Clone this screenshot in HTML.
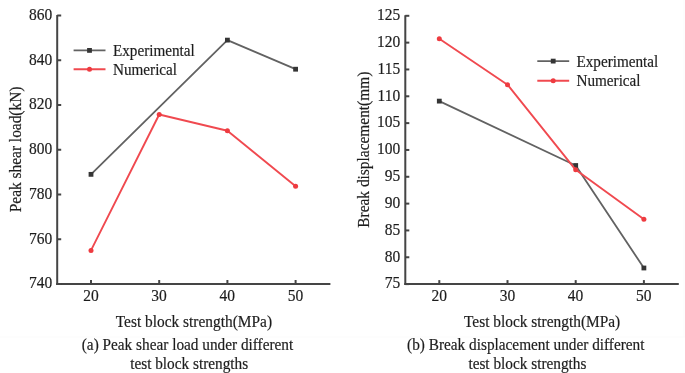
<!DOCTYPE html>
<html><head><meta charset="utf-8"><style>
html,body{margin:0;padding:0;background:#fff;width:685px;height:373px;overflow:hidden}
svg{display:block;font-family:"Liberation Serif",serif;fill:#1e1e1e}
svg text{fill:#1e1e1e;stroke:#1e1e1e;stroke-width:0.18px}
</style></head><body>
<svg width="685" height="373" viewBox="0 0 685 373">
<defs><filter id="b" x="0" y="0" width="100%" height="100%" filterUnits="userSpaceOnUse"><feGaussianBlur stdDeviation="0.45"/></filter></defs>
<rect width="685" height="373" fill="#fff"/>
<rect x="0" y="336.5" width="685" height="1" fill="#fbfbfb"/><rect x="683.5" y="0" width="1" height="337" fill="#fbfbfb"/>
<g filter="url(#b)">
<line x1="57.20" y1="14.90" x2="57.20" y2="285.00" stroke="#444" stroke-width="2"/>
<line x1="56.20" y1="284.00" x2="330.40" y2="284.00" stroke="#444" stroke-width="2"/>
<line x1="57.20" y1="284.00" x2="61.20" y2="284.00" stroke="#444" stroke-width="2"/>
<text transform="translate(52.30,288.30) scale(1,1.03)" font-size="15.5" text-anchor="end">740</text>
<line x1="57.20" y1="239.25" x2="61.20" y2="239.25" stroke="#444" stroke-width="2"/>
<text transform="translate(52.30,243.55) scale(1,1.03)" font-size="15.5" text-anchor="end">760</text>
<line x1="57.20" y1="194.50" x2="61.20" y2="194.50" stroke="#444" stroke-width="2"/>
<text transform="translate(52.30,198.80) scale(1,1.03)" font-size="15.5" text-anchor="end">780</text>
<line x1="57.20" y1="149.75" x2="61.20" y2="149.75" stroke="#444" stroke-width="2"/>
<text transform="translate(52.30,154.05) scale(1,1.03)" font-size="15.5" text-anchor="end">800</text>
<line x1="57.20" y1="105.00" x2="61.20" y2="105.00" stroke="#444" stroke-width="2"/>
<text transform="translate(52.30,109.30) scale(1,1.03)" font-size="15.5" text-anchor="end">820</text>
<line x1="57.20" y1="60.25" x2="61.20" y2="60.25" stroke="#444" stroke-width="2"/>
<text transform="translate(52.30,64.55) scale(1,1.03)" font-size="15.5" text-anchor="end">840</text>
<line x1="57.20" y1="15.50" x2="61.20" y2="15.50" stroke="#444" stroke-width="2"/>
<text transform="translate(52.30,19.80) scale(1,1.03)" font-size="15.5" text-anchor="end">860</text>
<line x1="91.00" y1="284.00" x2="91.00" y2="280.00" stroke="#444" stroke-width="2"/>
<text transform="translate(90.90,300.80) scale(1,1.03)" font-size="15.5" text-anchor="middle">20</text>
<line x1="159.20" y1="284.00" x2="159.20" y2="280.00" stroke="#444" stroke-width="2"/>
<text transform="translate(159.10,300.80) scale(1,1.03)" font-size="15.5" text-anchor="middle">30</text>
<line x1="227.40" y1="284.00" x2="227.40" y2="280.00" stroke="#444" stroke-width="2"/>
<text transform="translate(227.30,300.80) scale(1,1.03)" font-size="15.5" text-anchor="middle">40</text>
<line x1="295.60" y1="284.00" x2="295.60" y2="280.00" stroke="#444" stroke-width="2"/>
<text transform="translate(295.50,300.80) scale(1,1.03)" font-size="15.5" text-anchor="middle">50</text>
<polyline points="91.00,174.36 227.40,40.11 295.60,69.20" fill="none" stroke="#626262" stroke-width="1.8" stroke-linejoin="round"/>
<rect x="88.60" y="171.96" width="4.8" height="4.8" fill="#353535"/>
<rect x="225.00" y="37.71" width="4.8" height="4.8" fill="#353535"/>
<rect x="293.20" y="66.80" width="4.8" height="4.8" fill="#353535"/>
<polyline points="91.00,250.44 159.20,114.51 227.40,130.73 295.60,186.22" fill="none" stroke="#f04a50" stroke-width="1.9" stroke-linejoin="round"/>
<circle cx="91.00" cy="250.44" r="2.5" fill="#ee3b40"/>
<circle cx="159.20" cy="114.51" r="2.5" fill="#ee3b40"/>
<circle cx="227.40" cy="130.73" r="2.5" fill="#ee3b40"/>
<circle cx="295.60" cy="186.22" r="2.5" fill="#ee3b40"/>
<line x1="73.60" y1="50.40" x2="105.50" y2="50.40" stroke="#626262" stroke-width="1.8"/>
<rect x="87.10" y="48.00" width="4.8" height="4.8" fill="#353535"/>
<line x1="73.60" y1="69.30" x2="105.50" y2="69.30" stroke="#f04a50" stroke-width="1.9"/>
<circle cx="89.50" cy="69.30" r="2.5" fill="#ee3b40"/>
<text transform="translate(113.00,56.00) scale(1,1.03)" font-size="15.2" text-anchor="start">Experimental</text>
<text transform="translate(113.00,74.90) scale(1,1.03)" font-size="15.2" text-anchor="start">Numerical</text>
<text transform="translate(193.90,326.70) scale(1,1.03)" font-size="15.4" text-anchor="middle">Test block strength(MPa)</text>
<text transform="translate(20.80,149.40) rotate(-90) scale(1,1.03)" font-size="15.4" text-anchor="middle">Peak shear load(kN)</text>
<text transform="translate(187.50,349.70) scale(1,1.03)" font-size="15.3" text-anchor="middle">(a) Peak shear load under different</text>
<text transform="translate(189.20,368.70) scale(1,1.03)" font-size="15.3" text-anchor="middle">test block strengths</text>
<line x1="405.30" y1="15.20" x2="405.30" y2="285.10" stroke="#444" stroke-width="2"/>
<line x1="404.30" y1="284.10" x2="678.80" y2="284.10" stroke="#444" stroke-width="2"/>
<line x1="405.30" y1="284.10" x2="409.30" y2="284.10" stroke="#444" stroke-width="2"/>
<text transform="translate(400.20,288.40) scale(1,1.03)" font-size="15.5" text-anchor="end">75</text>
<line x1="405.30" y1="257.27" x2="409.30" y2="257.27" stroke="#444" stroke-width="2"/>
<text transform="translate(400.20,261.57) scale(1,1.03)" font-size="15.5" text-anchor="end">80</text>
<line x1="405.30" y1="230.44" x2="409.30" y2="230.44" stroke="#444" stroke-width="2"/>
<text transform="translate(400.20,234.74) scale(1,1.03)" font-size="15.5" text-anchor="end">85</text>
<line x1="405.30" y1="203.61" x2="409.30" y2="203.61" stroke="#444" stroke-width="2"/>
<text transform="translate(400.20,207.91) scale(1,1.03)" font-size="15.5" text-anchor="end">90</text>
<line x1="405.30" y1="176.78" x2="409.30" y2="176.78" stroke="#444" stroke-width="2"/>
<text transform="translate(400.20,181.08) scale(1,1.03)" font-size="15.5" text-anchor="end">95</text>
<line x1="405.30" y1="149.95" x2="409.30" y2="149.95" stroke="#444" stroke-width="2"/>
<text transform="translate(400.20,154.25) scale(1,1.03)" font-size="15.5" text-anchor="end">100</text>
<line x1="405.30" y1="123.12" x2="409.30" y2="123.12" stroke="#444" stroke-width="2"/>
<text transform="translate(400.20,127.42) scale(1,1.03)" font-size="15.5" text-anchor="end">105</text>
<line x1="405.30" y1="96.29" x2="409.30" y2="96.29" stroke="#444" stroke-width="2"/>
<text transform="translate(400.20,100.59) scale(1,1.03)" font-size="15.5" text-anchor="end">110</text>
<line x1="405.30" y1="69.46" x2="409.30" y2="69.46" stroke="#444" stroke-width="2"/>
<text transform="translate(400.20,73.76) scale(1,1.03)" font-size="15.5" text-anchor="end">115</text>
<line x1="405.30" y1="42.63" x2="409.30" y2="42.63" stroke="#444" stroke-width="2"/>
<text transform="translate(400.20,46.93) scale(1,1.03)" font-size="15.5" text-anchor="end">120</text>
<line x1="405.30" y1="15.80" x2="409.30" y2="15.80" stroke="#444" stroke-width="2"/>
<text transform="translate(400.20,20.10) scale(1,1.03)" font-size="15.5" text-anchor="end">125</text>
<line x1="439.30" y1="284.10" x2="439.30" y2="280.10" stroke="#444" stroke-width="2"/>
<text transform="translate(439.20,300.80) scale(1,1.03)" font-size="15.5" text-anchor="middle">20</text>
<line x1="507.50" y1="284.10" x2="507.50" y2="280.10" stroke="#444" stroke-width="2"/>
<text transform="translate(507.40,300.80) scale(1,1.03)" font-size="15.5" text-anchor="middle">30</text>
<line x1="575.70" y1="284.10" x2="575.70" y2="280.10" stroke="#444" stroke-width="2"/>
<text transform="translate(575.60,300.80) scale(1,1.03)" font-size="15.5" text-anchor="middle">40</text>
<line x1="643.90" y1="284.10" x2="643.90" y2="280.10" stroke="#444" stroke-width="2"/>
<text transform="translate(643.80,300.80) scale(1,1.03)" font-size="15.5" text-anchor="middle">50</text>
<polyline points="439.30,101.12 575.70,165.51 643.90,268.00" fill="none" stroke="#626262" stroke-width="1.8" stroke-linejoin="round"/>
<rect x="436.90" y="98.72" width="4.8" height="4.8" fill="#353535"/>
<rect x="573.30" y="163.11" width="4.8" height="4.8" fill="#353535"/>
<rect x="641.50" y="265.60" width="4.8" height="4.8" fill="#353535"/>
<polyline points="439.30,38.71 507.50,84.70 575.70,169.80 643.90,219.28" fill="none" stroke="#f04a50" stroke-width="1.9" stroke-linejoin="round"/>
<circle cx="439.30" cy="38.71" r="2.5" fill="#ee3b40"/>
<circle cx="507.50" cy="84.70" r="2.5" fill="#ee3b40"/>
<circle cx="575.70" cy="169.80" r="2.5" fill="#ee3b40"/>
<circle cx="643.90" cy="219.28" r="2.5" fill="#ee3b40"/>
<line x1="537.30" y1="61.10" x2="569.20" y2="61.10" stroke="#626262" stroke-width="1.8"/>
<rect x="550.80" y="58.70" width="4.8" height="4.8" fill="#353535"/>
<line x1="537.30" y1="80.70" x2="569.20" y2="80.70" stroke="#f04a50" stroke-width="1.9"/>
<circle cx="553.20" cy="80.70" r="2.5" fill="#ee3b40"/>
<text transform="translate(576.50,67.10) scale(1,1.03)" font-size="15.2" text-anchor="start">Experimental</text>
<text transform="translate(576.50,85.90) scale(1,1.03)" font-size="15.2" text-anchor="start">Numerical</text>
<text transform="translate(542.10,326.70) scale(1,1.03)" font-size="15.4" text-anchor="middle">Test block strength(MPa)</text>
<text transform="translate(369.00,149.70) rotate(-90) scale(1,1.03)" font-size="15.4" text-anchor="middle">Break displacement(mm)</text>
<text transform="translate(525.80,349.70) scale(1,1.03)" font-size="15.3" text-anchor="middle">(b) Break displacement under different</text>
<text transform="translate(527.40,368.70) scale(1,1.03)" font-size="15.3" text-anchor="middle">test block strengths</text>
</g>
</svg>
</body></html>
